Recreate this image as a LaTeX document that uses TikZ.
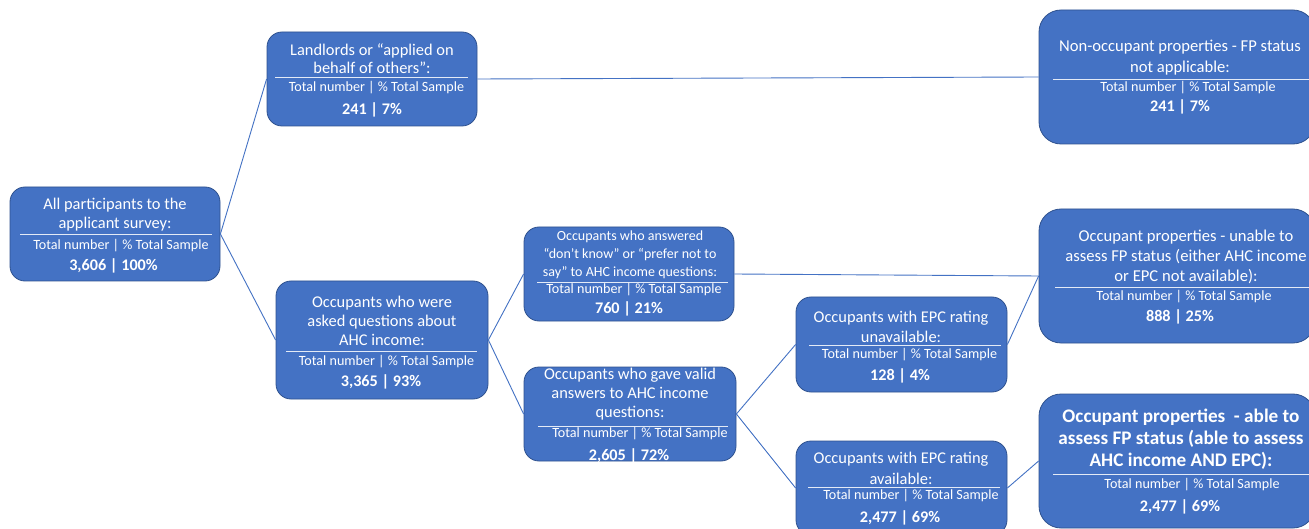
\documentclass[tikz,border=0pt]{standalone}
\usepackage{fontspec}
\setmainfont{Carlito}
\definecolor{boxblue}{HTML}{4472C4}
\definecolor{boxedge}{HTML}{2F528F}
\definecolor{rulecol}{HTML}{E3EAF6}
\tikzset{
  box/.style={draw=boxedge, line width=0.8pt, fill=boxblue, rounded corners=15pt, inner sep=0pt},
  bigbox/.style={box, rounded corners=22pt},
  link/.style={draw=boxblue, line width=0.9pt},
  sep/.style={draw=rulecol, line width=0.9pt},
  ttl/.style={text=white, align=center, inner sep=0pt, font=\fontsize{16.4}{19}\selectfont},
  sub/.style={text=white, inner sep=0pt, font=\fontsize{14.1}{16}\selectfont},
  num/.style={text=white, inner sep=0pt, font=\fontsize{16.2}{19}\selectfont\bfseries},
}
\begin{document}
\begin{tikzpicture}[x=1pt,y=-1pt]
\clip (0,0) rectangle (1309,529);
\fill[white] (0,0) rectangle (1309,529);

% boxes
\node[box, minimum width=210pt, minimum height=94pt] (A) at (115,234) {};
\node[box, minimum width=210pt, minimum height=94pt] (B) at (372,79) {};
\node[bigbox, minimum width=276pt, minimum height=134pt] (C) at (1177,77) {};
\node[box, minimum width=212pt, minimum height=118pt] (D) at (382,340) {};
\node[box, minimum width=210pt, minimum height=94pt] (E) at (629,274) {};
\node[box, minimum width=212pt, minimum height=94pt] (F) at (630,414) {};
\node[box, minimum width=211pt, minimum height=95pt] (G) at (901.5,344.5) {};
\node[box, minimum width=211pt, minimum height=94pt] (H) at (901.5,488) {};
\node[bigbox, minimum width=276pt, minimum height=134pt] (I) at (1177,276) {};
\node[bigbox, minimum width=276pt, minimum height=134pt] (J) at (1177,461) {};

% connectors
\draw[link] (A.east) -- (B.west);
\draw[link] (A.east) -- (D.west);
\draw[link] (B.east) -- (C.west);
\draw[link] (D.east) -- (E.west);
\draw[link] (D.east) -- (F.west);
\draw[link] (E.east) -- (I.west);
\draw[link] (F.east) -- (G.west);
\draw[link] (F.east) -- (H.west);
\draw[link] (G.east) -- (I.west);
\draw[link] (H.east) -- (J.west);

% A
\node[ttl] (At) at (115,214.5) {All participants to the\\applicant survey:};
\draw[sep] (20,234) -- (212,234);
\node[sub] (As) at (121,246) {Total number | \% Total Sample};
\node[num] (An) at (113.5,266) {3,606 | 100\%};

% B
\node[ttl, font=\fontsize{16.4}{18}\selectfont] (Bt) at (372,59) {Landlords or “applied on\\behalf of others”:};
\draw[sep] (275,77) -- (468,77);
\node[sub] (Bs) at (376.5,88) {Total number | \% Total Sample};
\node[num] (Bn) at (372,110) {241 | 7\%};

% C
\node[ttl, font=\fontsize{16.6}{21}\selectfont] (Ct) at (1180,57.5) {Non-occupant properties - FP status\\not applicable:};
\draw[sep] (1053,79) -- (1309,79);
\node[sub] (Cs) at (1188,88) {Total number | \% Total Sample};
\node[num] (Cn) at (1180,107) {241 | 7\%};

% D
\node[ttl] (Dt) at (382,321) {Occupants who were\\asked questions about\\AHC income:};
\draw[sep] (286,351) -- (477,351);
\node[sub] (Ds) at (386.5,362) {Total number | \% Total Sample};
\node[num] (Dn) at (381,382) {3,365 | 93\%};

% E
\node[ttl, font=\fontsize{14}{18}\selectfont] (Et) at (630,255) {Occupants who answered\\“don’t know” or “prefer not to\\say” to AHC income questions:};
\draw[sep] (537,282) -- (728,282);
\node[sub] (Es) at (634,290) {Total number | \% Total Sample};
\node[num] (En) at (629,309) {760 | 21\%};

% F
\node[ttl] (Ft) at (630,394) {Occupants who gave valid\\answers to AHC income\\questions:};
\draw[sep] (538,426) -- (728,426);
\node[sub] (Fs) at (640,434) {Total number | \% Total Sample};
\node[num] (Fn) at (629,456) {2,605 | 72\%};

% G
\node[ttl, font=\fontsize{16.4}{20}\selectfont] (Gt) at (901,327) {Occupants with EPC rating\\unavailable:};
\draw[sep] (809,345) -- (1001,345);
\node[sub] (Gs) at (909.5,355) {Total number | \% Total Sample};
\node[num] (Gn) at (900,376) {128 | 4\%};

% H
\node[ttl, font=\fontsize{16.4}{21}\selectfont] (Ht) at (901,468.5) {Occupants with EPC rating\\available:};
\draw[sep] (808,487) -- (1000,487);
\node[sub] (Hs) at (911,496) {Total number | \% Total Sample};
\node[num] (Hn) at (900,518) {2,477 | 69\%};

% I
\node[ttl, font=\fontsize{16.6}{20}\selectfont] (It) at (1186,257) {Occupant properties - unable to\\assess FP status (either AHC income\\or EPC not available):};
\draw[sep] (1055,287) -- (1309,287);
\node[sub] (Is) at (1184,297) {Total number | \% Total Sample};
\node[num] (In) at (1180,317) {888 | 25\%};

% J
\node[ttl, font=\fontsize{19.2}{22}\selectfont\bfseries] (Jt) at (1181,439) {Occupant properties~ - able to\\assess FP status (able to assess\\AHC income AND EPC):};
\draw[sep] (1053,474) -- (1309,474);
\node[sub] (Js) at (1192,485) {Total number | \% Total Sample};
\node[num] (Jn) at (1180,507) {2,477 | 69\%};
\end{tikzpicture}
\end{document}
